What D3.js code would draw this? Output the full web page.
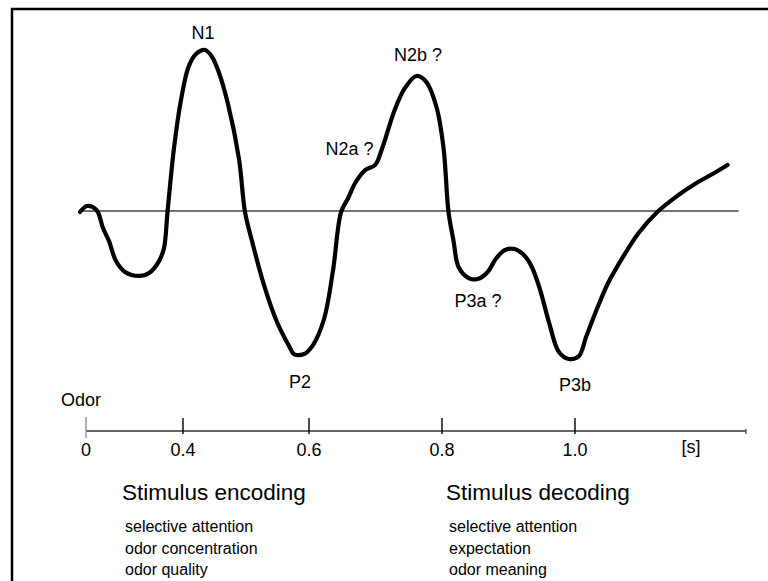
<!DOCTYPE html>
<html>
<head>
<meta charset="utf-8">
<script src="https://cdn.jsdelivr.net/npm/d3@7"></script>
<style>
  html, body { margin: 0; padding: 0; background: #fff; }
  svg { display: block; }
  text { font-family: "Liberation Sans", Arial, Helvetica, sans-serif; fill: #000; }
</style>
</head>
<body>
<svg id="chart" width="768" height="581"></svg>
<script>
// ---- data ----
// ERP waveform: time in seconds, amplitude in µV (negative up)
const times = [-0.0247, 0.0041, 0.0433, 0.0701, 0.0949, 0.1237, 0.1608, 0.2186, 0.2598, 0.3011,
  0.3217, 0.3361, 0.3629, 0.3918, 0.4087, 0.4206, 0.4349, 0.4452, 0.4556, 0.4714,
  0.4889, 0.4984, 0.5095, 0.5286, 0.5492, 0.5683, 0.5762, 0.5921, 0.6060, 0.6226,
  0.6362, 0.6483, 0.6589, 0.6694, 0.6845, 0.6996, 0.7102, 0.7283, 0.7434, 0.7615,
  0.7766, 0.7917, 0.8023, 0.8098, 0.8174, 0.8249, 0.8400, 0.8536, 0.8687, 0.8808,
  0.8943, 0.9094, 0.9245, 0.9351, 0.9472, 0.9608, 0.9758, 0.9909, 1.0060, 1.0166,
  1.0317, 1.0498, 1.0725, 1.0951, 1.1238, 1.1540, 1.1826, 1.2053, 1.2294];
const amplitudes = [0.06, -0.31, -0.06, 1.06, 1.88, 3.13, 3.81, 4.06, 3.88, 3.13,
  2.31, 0.06, -3.94, -6.94, -9.0, -9.81, -10.06, -9.69, -8.81, -6.69,
  -3.25, 0.06, 1.88, 4.63, 6.94, 8.44, 8.94, 8.94, 8.38, 6.75,
  3.69, 0.06, -0.81, -1.75, -2.56, -2.88, -3.94, -6.25, -7.63, -8.44,
  -8.06, -6.5, -3.94, 0.06, 1.88, 3.5, 4.19, 4.25, 3.81, 3.0,
  2.44, 2.38, 2.81, 3.5, 4.88, 6.94, 8.81, 9.25, 9.06, 7.88,
  6.25, 4.5, 2.85, 1.4, 0.06, -0.95, -1.75, -2.28, -2.88];

const baselineSpan = [-0.025, 1.246];
const tickValues = [0, 0.4, 0.6, 0.8, 1.0];
const tickLabels = ["0", "0.4", "0.6", "0.8", "1.0"];
const axisEnd = 1.257;

const peakNames = ["N1", "N2a ?", "N2b ?", "P2", "P3a ?", "P3b"];
const peakLabelTimes = [0.4317, 0.6609, 0.7639, 0.5857, 0.8541, 1.0];
const peakLabelAmps = [-10.75, -3.5, -9.375, 11.06, 6.0, 11.25];

const phaseTitles = ["Stimulus encoding", "Stimulus decoding"];
const encodingItems = ["selective attention", "odor concentration", "odor quality"];
const decodingItems = ["selective attention", "expectation", "odor meaning"];

// ---- scales ----
const svg = d3.select("#chart");
// broken time axis: 0–0.4 s compressed
const x = d3.scaleLinear().domain([0, 0.4, 0.6, 1.0]).range([86, 183, 309, 575]);
const y = d3.scaleLinear().domain([-10, 10]).range([51, 371]);

// frame (top + left)
svg.append("path")
  .attr("d", d3.line()([[12, 581], [12, 9], [768, 9]]))
  .attr("fill", "none").attr("stroke", "#000").attr("stroke-width", 2.5);

// baseline
svg.append("line")
  .attr("x1", x(baselineSpan[0])).attr("x2", x(baselineSpan[1]))
  .attr("y1", y(0)).attr("y2", y(0))
  .attr("stroke", "#444").attr("stroke-width", 1.5);

// waveform
const pts = times.map((t, i) => [t, amplitudes[i]]);
svg.append("path")
  .datum(pts)
  .attr("d", d3.line().x(d => x(d[0])).y(d => y(d[1])).curve(d3.curveCatmullRom.alpha(0.5)))
  .attr("fill", "none").attr("stroke", "#000").attr("stroke-width", 4.2)
  .attr("stroke-linejoin", "round").attr("stroke-linecap", "round");

// peak labels
svg.selectAll("text.peak").data(peakNames).enter().append("text")
  .attr("class", "peak")
  .attr("x", (d, i) => x(peakLabelTimes[i]))
  .attr("y", (d, i) => y(peakLabelAmps[i]))
  .attr("text-anchor", "middle")
  .attr("font-size", 18)
  .text(d => d);

// time axis
const axisY = 431;
const axisG = svg.append("g");
axisG.append("line")
  .attr("x1", x(0)).attr("x2", x(axisEnd))
  .attr("y1", axisY).attr("y2", axisY)
  .attr("stroke", "#333").attr("stroke-width", 1.5);
axisG.append("line")
  .attr("x1", x(axisEnd)).attr("x2", x(axisEnd))
  .attr("y1", axisY - 2).attr("y2", axisY + 3)
  .attr("stroke", "#333").attr("stroke-width", 1.2);
axisG.selectAll("line.tick").data(tickValues).enter().append("line")
  .attr("class", "tick")
  .attr("x1", d => x(d)).attr("x2", d => x(d))
  .attr("y1", d => d === 0 ? 417 : 418)
  .attr("y2", d => d === 0 ? 438 : 434)
  .attr("stroke", d => d === 0 ? "#999" : "#111")
  .attr("stroke-width", 1.5);
axisG.selectAll("text.tl").data(tickValues).enter().append("text")
  .attr("class", "tl")
  .attr("x", d => x(d))
  .attr("y", 456)
  .attr("text-anchor", "middle")
  .attr("font-size", 18)
  .text((d, i) => tickLabels[i]);
svg.append("text").attr("x", 691).attr("y", 453).attr("text-anchor", "middle")
  .attr("font-size", 18).text("[s]");
svg.append("text").attr("x", 61).attr("y", 406).attr("font-size", 18).text("Odor");

// phase descriptions
const colX = [122, 446];
[encodingItems, decodingItems].forEach((items, c) => {
  svg.append("text").attr("x", colX[c]).attr("y", 500)
    .attr("font-size", 22.5).text(phaseTitles[c]);
  svg.selectAll(null).data(items).enter().append("text")
    .attr("x", colX[c] + 3)
    .attr("y", (d, i) => 532 + i * 21.5)
    .attr("font-size", 16)
    .text(d => d);
});
</script>
</body>
</html>
